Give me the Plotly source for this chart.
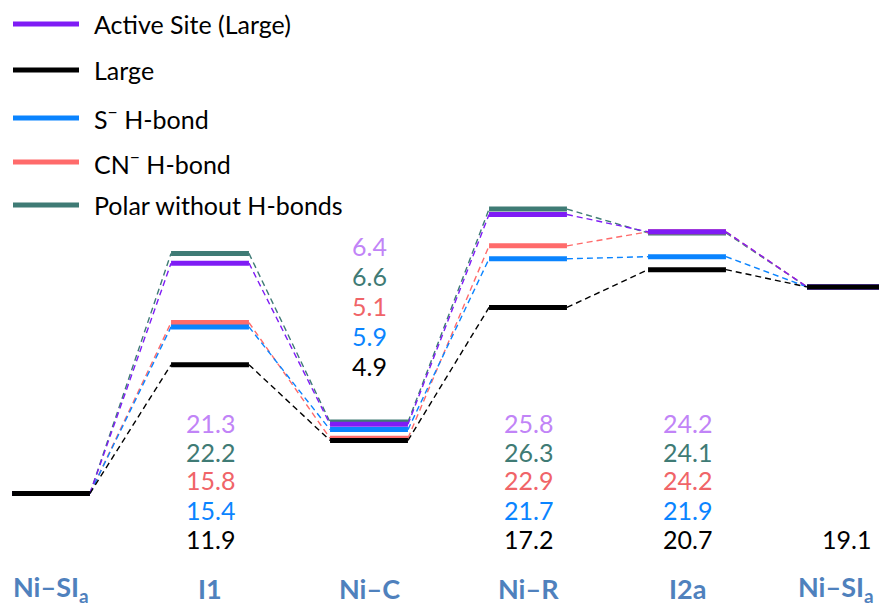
import plotly.graph_objects as go

# Reaction stages (x positions 0..5)
stages = ["Ni–SI<sub>a</sub>", "I1", "Ni–C", "Ni–R", "I2a", "Ni–SI<sub>a</sub>"]

# Relative energies for each model, one value per stage
active = [0, 21.3, 6.4, 25.8, 24.2, 19.1]
large = [0, 11.9, 4.9, 17.2, 20.7, 19.1]
s_hbond = [0, 15.4, 5.9, 21.7, 21.9, 19.1]
cn_hbond = [0, 15.8, 5.1, 22.9, 24.2, 19.1]
polar = [0, 22.2, 6.6, 26.3, 24.1, 19.1]

names = ["Active Site (Large)", "Large", "S<sup>−</sup> H-bond",
         "CN<sup>−</sup> H-bond", "Polar without H-bonds"]

W, H = 879, 608
FONT = "Lato"
X0, DX = 51, 159          # pixel centre of first stage and stage spacing
Y0, DY = 493.4, 10.81     # pixel of zero energy and pixels per unit
HALF = 0.245              # half bar width in stage units

series = {
    "active": dict(vals=active, line="#7f1cf5", text="#c184f7", name=names[0]),
    "large": dict(vals=large, line="#000000", text="#000000", name=names[1]),
    "s": dict(vals=s_hbond, line="#0a84ff", text="#0a84ff", name=names[2]),
    "cn": dict(vals=cn_hbond, line="#ff6b6b", text="#f06468", name=names[3]),
    "polar": dict(vals=polar, line="#3f7b75", text="#3f7b75", name=names[4]),
}

fig = go.Figure()

# dashed connectors between consecutive levels
for key in ["polar", "cn", "s", "active", "large"]:
    s = series[key]
    xs, ys = [], []
    v = s["vals"]
    for i in range(len(v) - 1):
        xs += [i + HALF, i + 1 - HALF, None]
        ys += [v[i], v[i + 1], None]
    fig.add_trace(go.Scatter(x=xs, y=ys, mode="lines", showlegend=False,
                             line=dict(color=s["line"], width=1.4, dash="6px,4px"),
                             hoverinfo="skip"))

# horizontal energy levels
for key in ["polar", "cn", "s", "active", "large"]:
    s = series[key]
    xs, ys = [], []
    for i, val in enumerate(s["vals"]):
        xs += [i - HALF, i + HALF, None]
        ys += [val, val, None]
    fig.add_trace(go.Scatter(x=xs, y=ys, mode="lines", name=s["name"],
                             showlegend=False,
                             line=dict(color=s["line"], width=5)))

annotations = []


def py(p):
    return 1 - p / H


# energy value labels, top to bottom: active, polar, CN, S, large
order = ["active", "polar", "cn", "s", "large"]
rows_low = [423, 452, 480, 510, 539]
rows_high = [246, 276, 306, 336, 366]
for i in range(1, 5):
    rows = rows_high if i == 2 else rows_low
    for key, p in zip(order, rows):
        s = series[key]
        annotations.append(dict(x=i, xref="x", y=py(p), yref="paper",
                                text=f"{s['vals'][i]:.1f}", showarrow=False,
                                xanchor="center", yanchor="middle",
                                font=dict(family=FONT, size=25, color=s["text"])))
annotations.append(dict(x=5, xref="x", y=py(539), yref="paper",
                        text=f"{large[5]:.1f}", showarrow=False,
                        xanchor="center", yanchor="middle",
                        font=dict(family=FONT, size=25, color="#000000")))

# stage names
for i, st in enumerate(stages):
    annotations.append(dict(x=i, xref="x", y=py(588), yref="paper",
                            text=f"<b>{st}</b>", showarrow=False,
                            xanchor="center", yanchor="middle",
                            xshift=-10 if i == len(stages) - 1 else 0,
                            font=dict(family=FONT, size=27, color="#4f81bd")))

# legend
shapes = []
leg_rows = [24, 70, 118, 162, 205]
for key, p in zip(["active", "large", "s", "cn", "polar"], leg_rows):
    s = series[key]
    shapes.append(dict(type="line", xref="paper", yref="paper",
                       x0=13 / W, x1=79 / W, y0=py(p), y1=py(p),
                       line=dict(color=s["line"], width=5)))
    annotations.append(dict(x=92 / W, xref="paper", y=py(p), yref="paper",
                            text=s["name"], showarrow=False,
                            xanchor="left", yanchor="middle",
                            font=dict(family=FONT, size=25, color="#000000")))

fig.update_layout(
    width=W, height=H,
    margin=dict(l=0, r=0, t=0, b=0),
    paper_bgcolor="white", plot_bgcolor="white",
    xaxis=dict(range=[-X0 / DX, (W - X0) / DX], visible=False, fixedrange=True),
    yaxis=dict(range=[(Y0 - H) / DY, Y0 / DY], visible=False, fixedrange=True),
    annotations=annotations, shapes=shapes,
    showlegend=False,
)

fig.write_html("out.html")
